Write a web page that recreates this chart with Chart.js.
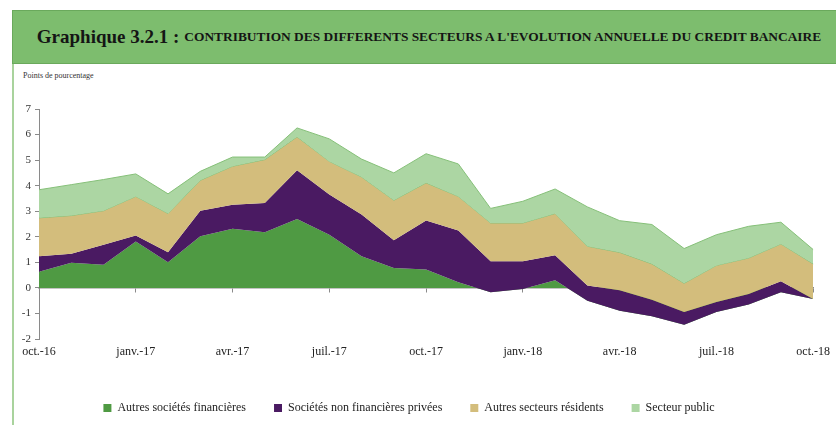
<!DOCTYPE html>
<html lang="fr">
<head>
<meta charset="utf-8">
<title>Graphique 3.2.1</title>
<script src="https://cdn.jsdelivr.net/npm/chart.js@4/dist/chart.umd.min.js"></script>
<style>
  html, body { margin: 0; padding: 0; background: #fff; }
  body { width: 836px; height: 425px; overflow: hidden; position: relative; font-family: "Liberation Serif", "DejaVu Serif", serif; }
  #bandeau {
    position: absolute; left: 12px; top: 10px; width: 824px; height: 54px; padding-left: 9px;
    background: #7dbd6e; border-top: 1px solid #6aa95c; border-bottom: 1px solid #6aa95c; border-left: 1px solid #6aa95c;
    box-sizing: border-box; display: flex; align-items: center; justify-content: center;
    color: #151515; white-space: nowrap;
  }
  #bandeau .num { font-size: 19px; font-weight: bold; }
  #bandeau .txt { font-size: 13.4px; font-weight: bold; margin-left: 5px; }
  #cadre { position: absolute; left: 12px; top: 64px; width: 0; height: 361px; border-left: 2px solid #a9d39d; }
  #unite { position: absolute; left: 23px; top: 71px; font-size: 8px; color: #333; }
  #graph { position: absolute; left: 0; top: 0; z-index: 2; }
</style>
</head>
<body>
<div id="bandeau"><span class="num">Graphique 3.2.1 :</span><span class="txt">CONTRIBUTION DES DIFFERENTS SECTEURS A L'EVOLUTION ANNUELLE DU CREDIT BANCAIRE</span></div>
<div id="cadre"></div>
<div id="unite">Points de pourcentage</div>
<canvas id="graph" width="836" height="424"></canvas>

<script>
// mois (un point par mois, une étiquette tous les trois mois)
const mois = ["oct.-16", "nov.-16", "déc.-16", "janv.-17", "févr.-17", "mars-17", "avr.-17", "mai-17", "juin-17",
  "juil.-17", "août-17", "sept.-17", "oct.-17", "nov.-17", "déc.-17", "janv.-18", "févr.-18", "mars-18",
  "avr.-18", "mai-18", "juin-18", "juil.-18", "août-18", "sept.-18", "oct.-18"];

// contributions en points de pourcentage
const autresSocFin = [0.63, 0.98, 0.91, 1.82, 1.00, 2.02, 2.31, 2.18, 2.70, 2.08, 1.24, 0.78, 0.72,
  0.22, -0.17, -0.04, 0.30, -0.50, -0.89, -1.11, -1.44, -0.94, -0.65, -0.17, -0.43];
const socNonFinPrivees = [0.61, 0.36, 0.78, 0.23, 0.39, 1.00, 0.94, 1.14, 1.90, 1.57, 1.63, 1.08, 1.92,
  2.03, 1.21, 1.08, 0.98, 0.59, 0.80, 0.65, 0.50, 0.39, 0.41, 0.43, 0.00];
const autresSecteurs = [1.50, 1.49, 1.33, 1.53, 1.52, 1.19, 1.51, 1.70, 1.31, 1.30, 1.47, 1.57, 1.47,
  1.33, 1.50, 1.50, 1.63, 1.54, 1.48, 1.40, 1.12, 1.43, 1.41, 1.46, 1.37];
const secteurPublic = [1.10, 1.21, 1.22, 0.88, 0.77, 0.35, 0.36, 0.10, 0.35, 0.88, 0.70, 1.07, 1.14,
  1.27, 0.57, 0.85, 0.96, 1.54, 1.24, 1.54, 1.36, 1.20, 1.24, 0.85, 0.56];

const yTicks = [-2, -1, 0, 1, 2, 3, 4, 5, 6, 7];

/* ------------------ cumul façon Excel (somme simple, quel que soit le signe) ------------------ */
function cumul(...series) {
  return series[0].map((_, i) => series.reduce((s, serie) => s + serie[i], 0));
}
const c1 = cumul(autresSocFin);
const c2 = cumul(autresSocFin, socNonFinPrivees);
const c3 = cumul(autresSocFin, socNonFinPrivees, autresSecteurs);
const c4 = cumul(autresSocFin, socNonFinPrivees, autresSecteurs, secteurPublic);

const police = "'Liberation Serif', 'DejaVu Serif', serif";
const gris = "#8a8a8a";

// l'ordre est inversé : Chart.js dessine le dernier jeu en premier, donc le vert reste dessous
const jeux = [
  { label: "Secteur public", data: c4, backgroundColor: "#acd6a3", borderColor: "#86c079", borderWidth: 1, fill: "+1" },
  { label: "Autres secteurs résidents", data: c3, backgroundColor: "#d3bd7c", borderColor: "#86c079", borderWidth: 1, fill: "+1" },
  { label: "Sociétés non financières privées", data: c2, backgroundColor: "#4a1a62", borderColor: "#4a1a62", borderWidth: 0, fill: "+1" },
  { label: "Autres sociétés financières", data: c1, backgroundColor: "#4f9a43", borderColor: "#4f9a43", borderWidth: 0, fill: "origin" }
];

new Chart(document.getElementById("graph"), {
  type: "line",
  data: { labels: mois, datasets: jeux },
  options: {
    responsive: false,
    animation: false,
    layout: { padding: { top: 109, left: 0, right: 18, bottom: 0 } },
    elements: { point: { radius: 0 }, line: { tension: 0 } },
    plugins: {
      tooltip: { enabled: false },
      legend: {
        position: "bottom",
        reverse: true,
        labels: {
          font: { family: police, size: 12 },
          color: "#222",
          boxWidth: 8,
          boxHeight: 8,
          padding: 28,
          generateLabels(chart) {
            return Chart.defaults.plugins.legend.labels.generateLabels(chart).map(it => {
              it.lineWidth = 0;
              it.strokeStyle = it.fillStyle;
              return it;
            });
          }
        }
      }
    },
    scales: {
      x: {
        type: "category",
        offset: false,
        grid: { display: false, drawTicks: false },
        border: { display: false },
        ticks: {
          autoSkip: false,
          maxRotation: 0,
          padding: 6,
          font: { family: police, size: 12 },
          color: "#222",
          callback(v, i) { return i % 3 === 0 ? mois[i] : null; }
        },
        afterFit(s) { s.height = 35; }
      },
      // axe horizontal à zéro, avec ses petites graduations
      x0: {
        type: "category",
        position: { y: 0 },
        offset: false,
        grid: {
          drawOnChartArea: false,
          drawTicks: true,
          tickLength: 4,
          tickColor: ctx => (ctx.index % 3 === 0 ? gris : "rgba(0,0,0,0)")
        },
        border: { display: true, color: gris, width: 1.5 },
        ticks: { display: false, autoSkip: false }
      },
      y: {
        min: -2,
        max: 7,
        afterBuildTicks(s) { s.ticks = yTicks.map(v => ({ value: v })); },
        grid: { drawOnChartArea: false, drawTicks: true, tickLength: 4, color: gris },
        border: { display: true, color: gris },
        ticks: { padding: 4, font: { family: police, size: 11 }, color: "#333" },
        afterFit(s) { s.width = 39; }
      }
    }
  }
});
</script>
</body>
</html>
